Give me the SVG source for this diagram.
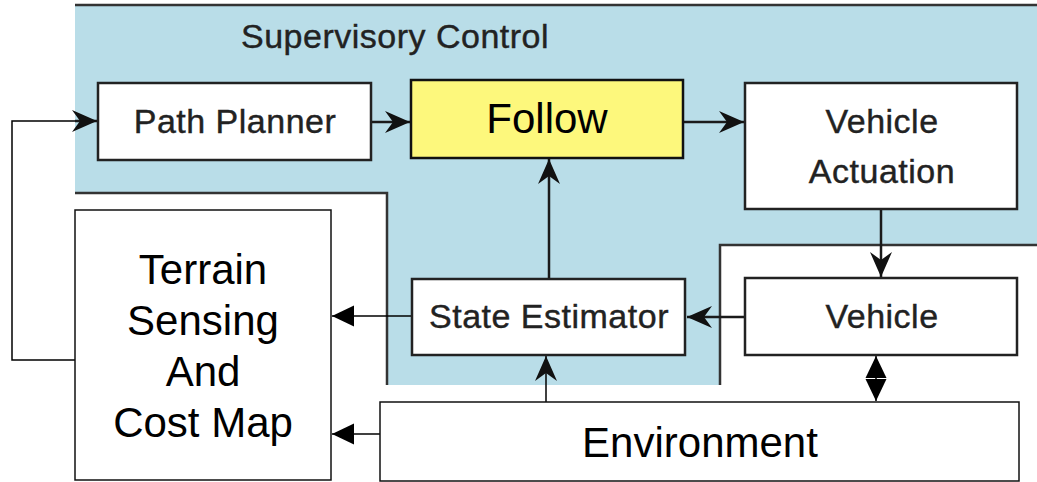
<svg xmlns="http://www.w3.org/2000/svg" width="1037" height="482" viewBox="0 0 1037 482">
  <style>
    .sc-box { fill: #ffffff; stroke: #222222; stroke-width: 2.5; }
    .sc-text { font-family: "Liberation Sans", Arial, sans-serif; font-size: 34px; letter-spacing: 0.5px; fill: #222222; stroke: #222222; stroke-width: 0.4; text-anchor: middle; }
    .plain-box { fill: #ffffff; stroke: #111111; stroke-width: 1.5; }
    .big-text { font-family: "Liberation Sans", Arial, sans-serif; font-size: 42px; fill: #000000; text-anchor: middle; }
    .wire { fill: none; stroke: #1a1a1a; stroke-width: 2.5; }
    .thin { fill: none; stroke: #000000; stroke-width: 1.5; }
    .edge { fill: none; stroke: #333333; stroke-width: 2.5; }
  </style>
  <defs>
    <marker id="barb" viewBox="-26 -12 28 24" markerWidth="28" markerHeight="24" refX="0" refY="0" orient="auto" markerUnits="userSpaceOnUse">
      <path d="M0,0 L-25,-11 L-17,0 L-25,11 Z" fill="#111111"/>
    </marker>
    <marker id="tri" viewBox="-26 -12 28 24" markerWidth="28" markerHeight="24" refX="0" refY="0" orient="auto-start-reverse" markerUnits="userSpaceOnUse">
      <path d="M0,0 L-22,-10.5 L-22,10.5 Z" fill="#000000"/>
    </marker>
  </defs>

  <!-- white page -->
  <rect x="0" y="0" width="1037" height="482" fill="#ffffff"/>

  <!-- supervisory control panel -->
  <rect x="75" y="5" width="962" height="380" fill="#b9dde8"/>
  <line x1="75" y1="5" x2="1037" y2="5" class="edge"/>
  <!-- white sub-panels cut into the panel -->
  <path d="M75,193 H387 V385 H75 Z" fill="#ffffff"/>
  <path d="M75,193 H387 V385" class="edge"/>
  <path d="M720,245 H1037 V385 H720 Z" fill="#ffffff"/>
  <path d="M720,385 V245 H1037" class="edge"/>
  <text x="241" y="48" class="sc-text" style="text-anchor: start">Supervisory Control</text>

  <!-- connectors -->
  <g id="connectors">
    <path d="M75,360 H12 V121 H97" class="thin"/>
    <line x1="75" y1="121" x2="97" y2="121" class="wire" marker-end="url(#barb)"/>
    <line x1="371" y1="122" x2="410" y2="122" class="wire" marker-end="url(#barb)"/>
    <line x1="683" y1="122" x2="744" y2="122" class="wire" marker-end="url(#barb)"/>
    <line x1="881" y1="209" x2="881" y2="277" class="wire" marker-end="url(#barb)"/>
    <line x1="745" y1="317" x2="687" y2="317" class="wire" marker-end="url(#barb)"/>
    <line x1="549" y1="279" x2="549" y2="159" class="wire" marker-end="url(#barb)"/>
    <line x1="412" y1="316" x2="332" y2="316" class="thin" marker-end="url(#tri)"/>
    <line x1="546" y1="402" x2="546" y2="356" class="thin" marker-end="url(#barb)"/>
    <line x1="380" y1="434" x2="332" y2="434" class="thin" marker-end="url(#tri)"/>
    <line x1="876" y1="356" x2="876" y2="401" class="thin" marker-start="url(#tri)" marker-end="url(#tri)"/>
  </g>

  <!-- nodes -->
  <g id="path-planner">
    <rect x="98" y="83" width="273" height="77" class="sc-box"/>
    <text x="235" y="133" class="sc-text">Path Planner</text>
  </g>
  <g id="follow">
    <rect x="411" y="80" width="272" height="78" fill="#fdf87c" stroke="#111111" stroke-width="2.5"/>
    <text x="547" y="133" class="big-text">Follow</text>
  </g>
  <g id="vehicle-actuation">
    <rect x="745" y="83" width="272" height="126" class="sc-box"/>
    <text x="882" y="133" class="sc-text">Vehicle</text>
    <text x="882" y="183" class="sc-text">Actuation</text>
  </g>
  <g id="vehicle">
    <rect x="745" y="278" width="272" height="77" class="sc-box"/>
    <text x="882" y="328" class="sc-text">Vehicle</text>
  </g>
  <g id="state-estimator">
    <rect x="412" y="279" width="273" height="76" class="sc-box"/>
    <text x="549" y="328" class="sc-text">State Estimator</text>
  </g>
  <g id="terrain-sensing">
    <rect x="75" y="210" width="256" height="270" class="plain-box"/>
    <text x="203" y="284" class="big-text">Terrain</text>
    <text x="203" y="335" class="big-text">Sensing</text>
    <text x="203" y="386" class="big-text">And</text>
    <text x="203" y="437" class="big-text">Cost Map</text>
  </g>
  <g id="environment">
    <rect x="380" y="402" width="639" height="79" class="plain-box"/>
    <text x="700" y="457" class="big-text">Environment</text>
  </g>
</svg>
